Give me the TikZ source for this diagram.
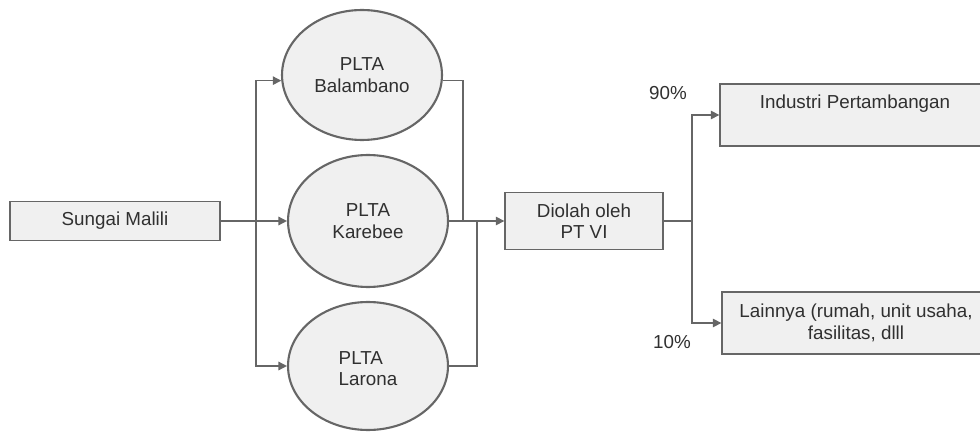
\documentclass[tikz,border=0pt]{standalone}
\usepackage{fontspec}
\setmainfont{Liberation Sans}
\usetikzlibrary{shapes.geometric,arrows.meta}
\definecolor{linegray}{HTML}{666666}
\definecolor{boxfill}{HTML}{F0F0F0}
\definecolor{textgray}{HTML}{303030}
\tikzset{pipe/.style={draw=linegray,line width=0.8pt}, >={Triangle[length=1.7mm,width=1.7mm]}}
\tikzset{box/.style={draw=linegray,line width=0.8pt,fill=boxfill,rectangle,inner sep=2pt,text=textgray,font=\fontsize{10.7}{12.2}\selectfont,align=center},
         plant/.style={box,ellipse,line width=1.2pt,minimum width=3.2cm,minimum height=2.6cm},
         pct/.style={text=textgray,font=\fontsize{10.7}{12.2}\selectfont,inner sep=0pt}}

\begin{document}
\begin{tikzpicture}[x=0.02cm,y=-0.02cm]
  \clip (0,0) rectangle (980,432);
  \node[box,minimum width=4.2cm,minimum height=0.78cm] (sungai) at (115,221) {Sungai Malili};
  \node[plant] (bal) at (362,75) {PLTA\\Balambano};
  \node[plant,minimum height=2.64cm] (kar) at (368,221) {PLTA\\Karebee};
  \node[plant,minimum height=2.56cm,align=left] (lar) at (368,366) {\mbox{}\\[-2pt]PLTA\\Larona};
  \node[box,minimum width=3.16cm,minimum height=1.14cm] (diolah) at (584,221) {Diolah oleh\\PT VI};
  \node[box,minimum width=5.4cm,minimum height=1.24cm,label={[box,draw=none,fill=none,anchor=north,yshift=-0.14cm]north:Industri Pertambangan}] (industri) at (855,115) {};
  \node[box,minimum width=5.36cm,minimum height=1.24cm] (lainnya) at (856,323) {Lainnya (rumah, unit usaha,\\fasilitas, dlll};
  \node[pct] (atas) at (668,93) {90\%};
  \node[pct] (bawah) at (672,342) {10\%};
  \coordinate (split) at (256,221);
  \coordinate (joinA) at (463,221);
  \coordinate (joinB) at (477,221);
  \coordinate (fork) at (692,221);
  \draw[pipe,->] (sungai.east) -- (kar.west);
  \draw[pipe,->] (split) |- (bal.184);
  \draw[pipe,->] (split) |- (lar.west);
  \draw[pipe] (bal.356) -| (joinA);
  \draw[pipe] (lar.east) -| (joinB);
  \draw[pipe,->] (kar.east) -- (diolah.west);
  \draw[pipe] (diolah.east) -- (fork);
  \draw[pipe,->] (fork) |- (industri.west);
  \draw[pipe,->] (fork) |- (lainnya.west);
\end{tikzpicture}
\end{document}
